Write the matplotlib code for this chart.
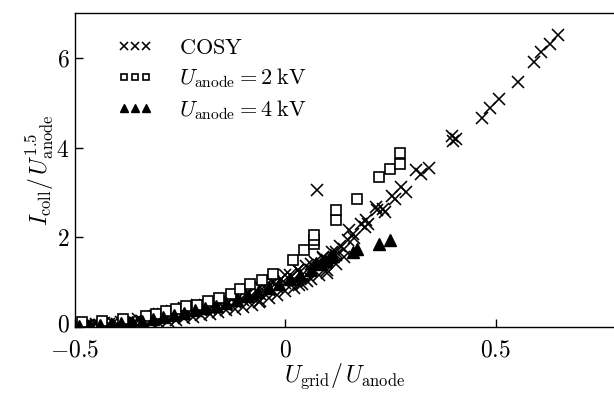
import matplotlib
matplotlib.use("Agg")
import matplotlib.pyplot as plt
import matplotlib.transforms as mtransforms
from matplotlib.ticker import FixedLocator, FixedFormatter

plt.rcParams['mathtext.fontset'] = 'cm'
plt.rcParams['font.family'] = ['DejaVu Serif']

# ---- data ----
cosy_x = [
    # lower row
    -0.50, -0.48, -0.46, -0.44, -0.42, -0.40, -0.38, -0.36, -0.34, -0.32, -0.30,
    -0.28, -0.26, -0.24, -0.22, -0.20, -0.18, -0.16, -0.14, -0.12, -0.10, -0.08,
    -0.06, -0.04, -0.02, 0.00, 0.02, 0.04, 0.06, 0.08, 0.10, 0.12, 0.14,
    # middle row
    -0.50, -0.48, -0.46, -0.44, -0.42, -0.40, -0.38, -0.36, -0.34, -0.32, -0.30,
    -0.28, -0.26, -0.24, -0.22, -0.20, -0.18, -0.16, -0.14, -0.12, -0.10, -0.08,
    -0.06, -0.04, -0.02, 0.00, 0.02, 0.04, 0.06, 0.08, 0.10, 0.12, 0.14,
    # upper row
    -0.49, -0.47, -0.45, -0.43, -0.41, -0.39, -0.37, -0.35, -0.33, -0.31, -0.29,
    -0.27, -0.25, -0.23, -0.21, -0.19, -0.17, -0.15, -0.13, -0.11, -0.09, -0.07,
    -0.05, -0.03, -0.01, 0.01, 0.03, 0.05, 0.07, 0.09, 0.11, 0.13,
    # top row
    -0.30, -0.27, -0.24, -0.21, -0.18, -0.15, -0.12, -0.09, -0.06, -0.03, 0.00,
    0.03, 0.06, 0.09, 0.12,
    # scattered below the band
    -0.062, 0.033, 0.052, 0.098,
    # tail and outliers
    0.076, 0.150, 0.152, 0.160, 0.164, 0.180, 0.189, 0.192, 0.197, 0.216, 0.217,
    0.232, 0.237, 0.254, 0.261, 0.275, 0.286, 0.311, 0.322, 0.342, 0.395, 0.399,
    0.405, 0.467, 0.487, 0.507, 0.552, 0.592, 0.608, 0.629, 0.649,
]
cosy_y = [
    0.01, 0.01, 0.02, 0.02, 0.03, 0.03, 0.04, 0.05, 0.06, 0.08, 0.10,
    0.13, 0.16, 0.19, 0.22, 0.26, 0.29, 0.33, 0.37, 0.41, 0.45, 0.50,
    0.58, 0.64, 0.72, 0.80, 0.88, 0.96, 1.06, 1.17, 1.28, 1.40, 1.55,
    0.02, 0.03, 0.04, 0.05, 0.06, 0.07, 0.09, 0.11, 0.13, 0.16, 0.19,
    0.22, 0.26, 0.29, 0.33, 0.37, 0.41, 0.45, 0.50, 0.55, 0.60, 0.66,
    0.74, 0.82, 0.90, 0.98, 1.07, 1.17, 1.27, 1.38, 1.49, 1.61, 1.75,
    0.04, 0.05, 0.06, 0.08, 0.10, 0.12, 0.14, 0.17, 0.20, 0.24, 0.28,
    0.32, 0.36, 0.40, 0.44, 0.48, 0.52, 0.57, 0.62, 0.67, 0.73, 0.80,
    0.90, 0.98, 1.07, 1.16, 1.26, 1.36, 1.46, 1.56, 1.67, 1.80,
    0.30, 0.36, 0.42, 0.48, 0.54, 0.61, 0.69, 0.79, 0.90, 1.02, 1.15,
    1.28, 1.40, 1.53, 1.68,
    0.55, 0.93, 1.02, 1.20,
    3.05, 1.95, 2.16, 2.08, 1.99, 2.30, 2.22, 2.38, 2.30, 2.67, 2.60,
    2.64, 2.56, 2.93, 2.86, 3.12, 3.01, 3.49, 3.42, 3.54, 4.25, 4.14,
    4.20, 4.67, 4.89, 5.08, 5.46, 5.91, 6.14, 6.32, 6.51,
]

kv2_x = [-0.483, -0.435, -0.387, -0.332, -0.308, -0.284, -0.260, -0.236, -0.209,
         -0.185, -0.157, -0.130, -0.107, -0.084, -0.056, -0.030, 0.019, 0.044,
         0.069, 0.069, 0.069, 0.121, 0.121, 0.171, 0.222, 0.248, 0.273, 0.273]
kv2_y = [0.12, 0.14, 0.17, 0.25, 0.30, 0.35, 0.41, 0.46, 0.50,
         0.58, 0.64, 0.74, 0.84, 0.95, 1.04, 1.18, 1.50, 1.71,
         1.86, 1.95, 2.06, 2.38, 2.60, 2.86, 3.34, 3.52, 3.64, 3.87]

kv4_x = [-0.49, -0.465, -0.44, -0.415, -0.39, -0.365, -0.34, -0.315, -0.29, -0.265,
         -0.24, -0.215, -0.19, -0.165, -0.14, -0.115, -0.09, -0.065, -0.04, -0.015,
         0.01, 0.035, 0.06, 0.073, 0.085, 0.095, 0.105, 0.113, 0.160, 0.170,
         0.222, 0.248]
kv4_y = [0.03, 0.04, 0.05, 0.07, 0.09, 0.11, 0.14, 0.18, 0.22, 0.27,
         0.32, 0.37, 0.42, 0.47, 0.53, 0.60, 0.68, 0.77, 0.86, 0.96,
         1.06, 1.17, 1.28, 1.42, 1.40, 1.48, 1.56, 1.58, 1.67, 1.75,
         1.86, 1.95]

xticks = [-0.5, 0.0, 0.5]
xtick_labels = ['$-0.5$', '$0$', '$0.5$']
yticks = [0, 2, 4, 6]
ytick_labels = ['$0$', '$2$', '$4$', '$6$']

# ---- figure ----
fig = plt.figure(figsize=(6.14, 3.94), dpi=100)
ax = fig.add_axes([75/614, 1 - 327/394, (614 - 75)/614, (327 - 13)/394])

ax.plot(cosy_x, cosy_y, linestyle='none', marker='x', markersize=8.3,
        markeredgewidth=1.15, color='black', label=r'$\mathrm{COSY}$')
ax.plot(kv2_x, kv2_y, linestyle='none', marker='s', markersize=7.6,
        markerfacecolor='white', markeredgecolor='black', markeredgewidth=1.2,
        label=r'$U_\mathrm{anode} = 2\;\mathrm{kV}$')
ax.plot(kv4_x, kv4_y, linestyle='none', marker='^', markersize=8,
        color='black', label=r'$U_\mathrm{anode} = 4\;\mathrm{kV}$')

ax.set_xlim(-0.5, 0.781)
ax.set_ylim(0, 7)
ax.xaxis.set_major_locator(FixedLocator(xticks))
ax.xaxis.set_major_formatter(FixedFormatter(xtick_labels))
ax.yaxis.set_major_locator(FixedLocator(yticks))
ax.yaxis.set_major_formatter(FixedFormatter(ytick_labels))
ax.tick_params(direction='in', length=6, width=1.0, labelsize=17)
ax.tick_params(axis='x', pad=8)
ax.tick_params(axis='y', pad=4)
ax.spines['right'].set_visible(False)
for s in ['left', 'top', 'bottom']:
    ax.spines[s].set_linewidth(1.0)

# nudge the y "0" label up a little so it clears the x "-0.5" label
fig.canvas.draw()
ylabels = ax.get_yticklabels()
if ylabels:
    off = mtransforms.ScaledTranslation(0, 3/72, fig.dpi_scale_trans)
    ylabels[0].set_transform(ylabels[0].get_transform() + off)

ax.set_xlabel(r'$U_\mathrm{grid}/\,U_\mathrm{anode}$', fontsize=17, labelpad=0)
ax.set_ylabel(r'$I_\mathrm{coll}/\,U_\mathrm{anode}^{1.5}$', fontsize=17, labelpad=0)

ax.legend(loc='upper left', bbox_to_anchor=(0.078, 0.925), frameon=False,
          numpoints=3, markerscale=0.65, fontsize=16, handlelength=1.6,
          handletextpad=1.2, labelspacing=0.35, borderaxespad=0.0, borderpad=0.0)

fig.savefig('out.png', dpi=100)
